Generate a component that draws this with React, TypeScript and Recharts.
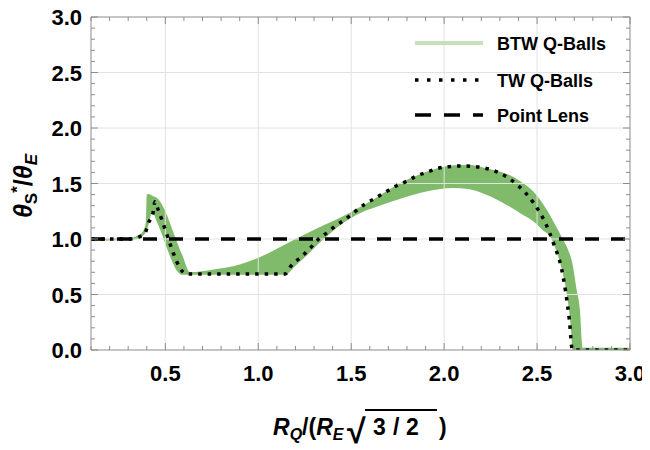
import React from 'react';
import { ComposedChart, Area, Line, XAxis, YAxis, ReferenceLine, Legend } from 'recharts';

// ---------- data ----------
const btwX = [0.10, 0.30, 0.35, 0.38, 0.395, 0.400, 0.410, 0.430, 0.455, 0.590, 0.633, 0.760, 0.900, 1.000, 1.080, 1.144, 1.200, 1.260, 1.320, 1.400, 1.490, 1.550, 1.637, 1.760, 1.880, 1.980, 2.050, 2.130, 2.210, 2.290, 2.354, 2.420, 2.479, 2.530, 2.578, 2.610, 2.641, 2.665, 2.684, 2.690, 2.713, 2.730, 2.745, 3.000];
const btwLow = [0.985, 0.99, 1.0, 1.03, 1.06, 1.08, 1.13, 1.24, 1.152, 0.678, 0.678, 0.678, 0.678, 0.678, 0.678, 0.678, 0.76, 0.85, 0.95, 1.07, 1.18, 1.235, 1.29, 1.36, 1.42, 1.45, 1.46, 1.45, 1.41, 1.35, 1.29, 1.22, 1.16, 1.08, 1.0, 0.86, 0.67, 0.45, 0.15, 0.0, 0.0, 0.0, 0.0, 0.0];
const btwHigh = [1.0, 1.008, 1.03, 1.07, 1.15, 1.40, 1.405, 1.39, 1.37, 0.86, 0.70, 0.725, 0.77, 0.83, 0.895, 0.95, 1.0, 1.05, 1.10, 1.16, 1.235, 1.29, 1.375, 1.50, 1.59, 1.645, 1.665, 1.67, 1.645, 1.61, 1.575, 1.51, 1.43, 1.32, 1.19, 1.09, 0.99, 0.91, 0.82, 0.78, 0.54, 0.37, 0.02, 0.02];

const twX = [0.10, 0.30, 0.33, 0.36, 0.39, 0.408, 0.435, 0.444, 0.462, 0.615, 1.144, 1.18, 1.233, 1.278, 1.323, 1.377, 1.422, 1.475, 1.52, 1.574, 1.628, 1.681, 1.744, 1.798, 1.852, 1.914, 1.968, 2.03, 2.103, 2.2, 2.291, 2.399, 2.479, 2.546, 2.591, 2.632, 2.654, 2.673, 2.69, 3.0];
const twY = [1.0, 1.0, 1.005, 1.02, 1.05, 1.14, 1.246, 1.336, 1.26, 0.685, 0.685, 0.766, 0.841, 0.916, 0.997, 1.066, 1.126, 1.186, 1.246, 1.315, 1.366, 1.42, 1.48, 1.52, 1.568, 1.606, 1.637, 1.652, 1.658, 1.645, 1.60, 1.48, 1.33, 1.14, 0.95, 0.73, 0.52, 0.28, 0.0, 0.0];

const lensX = [0.1, 3.0];
const lensY = [1.0, 1.0];

const xGridValues = [0.5, 1.0, 1.5, 2.0, 2.5];
const yGridValues = [0.5, 1.0, 1.5, 2.0, 2.5];
const xTicks = [0.1, 0.2, 0.3, 0.4, 0.5, 0.6, 0.7, 0.8, 0.9, 1.0, 1.1, 1.2, 1.3, 1.4, 1.5, 1.6, 1.7, 1.8, 1.9, 2.0, 2.1, 2.2, 2.3, 2.4, 2.5, 2.6, 2.7, 2.8, 2.9, 3.0];
const yTicks = [0, 0.1, 0.2, 0.3, 0.4, 0.5, 0.6, 0.7, 0.8, 0.9, 1.0, 1.1, 1.2, 1.3, 1.4, 1.5, 1.6, 1.7, 1.8, 1.9, 2.0, 2.1, 2.2, 2.3, 2.4, 2.5, 2.6, 2.7, 2.8, 2.9, 3.0];

const legendLabels = ['BTW Q-Balls', 'TW Q-Balls', 'Point Lens'];

const btwData = btwX.map((x, i) => ({ x, range: [btwLow[i], btwHigh[i]] }));
const twData = twX.map((x, i) => ({ x, y: twY[i] }));
const lensData = lensX.map((x, i) => ({ x, y: lensY[i] }));

// ---------- styling ----------
const FONT = '"Liberation Sans", Arial, sans-serif';
const FRAME = '#8c8c8c';
const GRID = '#e2e2e2';
const GREEN = '#80bb6c';
const GREEN_LIGHT = '#c6e1b9';

const isMajor = (v: number) => Math.abs(v * 2 - Math.round(v * 2)) < 1e-6;

const BottomTick = (props: any) => {
  const { x, y, payload } = props;
  const v = payload.value;
  const major = isMajor(v);
  return (
    <g>
      <line x1={x} x2={x} y1={y} y2={y - (major ? 7 : 4)} stroke={FRAME} strokeWidth={1} />
      {major && (
        <text x={x} y={y + 31} textAnchor="middle" fontFamily={FONT} fontWeight="bold" fontSize={22} fill="#000">
          {v.toFixed(1)}
        </text>
      )}
    </g>
  );
};

const TopTick = (props: any) => {
  const { x, y, payload } = props;
  const major = isMajor(payload.value);
  return <line x1={x} x2={x} y1={y} y2={y + (major ? 7 : 4)} stroke={FRAME} strokeWidth={1} />;
};

const LeftTick = (props: any) => {
  const { x, y, payload } = props;
  const v = payload.value;
  const major = isMajor(v);
  return (
    <g>
      <line x1={x} x2={x + (major ? 7 : 4)} y1={y} y2={y} stroke={FRAME} strokeWidth={1} />
      {major && (
        <text x={x - 9} y={y + 8} textAnchor="end" fontFamily={FONT} fontWeight="bold" fontSize={22} fill="#000">
          {v.toFixed(1)}
        </text>
      )}
    </g>
  );
};

const RightTick = (props: any) => {
  const { x, y, payload } = props;
  const major = isMajor(payload.value);
  return <line x1={x} x2={x - (major ? 7 : 4)} y1={y} y2={y} stroke={FRAME} strokeWidth={1} />;
};

const XTitle = () => {
  const by = 427;
  const common = { fontFamily: FONT, fontWeight: 'bold' as const, fill: '#000' };
  return (
    <g>
      <text x={265} y={by} fontSize={23} {...common}>
        <tspan fontStyle="italic">R</tspan>
        <tspan fontStyle="italic" fontSize={16} dy={5}>Q</tspan>
        <tspan dy={-5}>/(</tspan>
        <tspan fontStyle="italic">R</tspan>
        <tspan fontStyle="italic" fontSize={16} dy={5}>E</tspan>
      </text>
      <text x={339} y={by + 8} fontSize={34} {...common}>√</text>
      <line x1={357} x2={429} y1={402} y2={402} stroke="#000" strokeWidth={2.2} />
      <text y={by} fontSize={23} {...common}>
        <tspan x={365}>3</tspan>
        <tspan x={385}>/</tspan>
        <tspan x={398}>2</tspan>
      </text>
      <text x={431} y={by} fontSize={23} {...common}>)</text>
    </g>
  );
};

const YTitle = () => {
  const cx = 24;
  const cy = 178;
  return (
    <text
      transform={`translate(${cx},${cy}) rotate(-90)`}
      x={0}
      y={0}
      textAnchor="middle"
      fontFamily={FONT}
      fontWeight="bold"
      fontSize={25}
      fill="#000"
    >
      <tspan fontStyle="italic">θ</tspan>
      <tspan fontSize={17} dy={5}>S</tspan>
      <tspan fontSize={17} dy={-14}>*</tspan>
      <tspan dy={9}>/</tspan>
      <tspan fontStyle="italic">θ</tspan>
      <tspan fontSize={17} fontStyle="italic" dy={5}>E</tspan>
    </text>
  );
};

const LegendContent = () => {
  const rows = [18, 55, 90];
  const x1 = 12;
  const x2 = 80;
  const tx = 94;
  const tstyle = { fontFamily: FONT, fontWeight: 'bold' as const, fontSize: 18, fill: '#000' };
  return (
    <svg width={240} height={110} style={{ display: 'block', overflow: 'visible' }}>
      <line x1={x1} x2={x2} y1={rows[0]} y2={rows[0]} stroke={GREEN_LIGHT} strokeWidth={4} />
      <text x={tx} y={rows[0] + 6.5} {...tstyle}>{legendLabels[0]}</text>
      <line x1={x1} x2={x2} y1={rows[1]} y2={rows[1]} stroke="#000" strokeWidth={3.5} strokeDasharray="3.5 8.5" />
      <text x={tx} y={rows[1] + 6.5} {...tstyle}>{legendLabels[1]}</text>
      <line x1={x1} x2={x2} y1={rows[2]} y2={rows[2]} stroke="#000" strokeWidth={3.5} strokeDasharray="16 13" />
      <text x={tx} y={rows[2] + 6.5} {...tstyle}>{legendLabels[2]}</text>
    </svg>
  );
};

export default function App() {
  return (
    <ComposedChart width={650} height={450} margin={{ top: 0, right: 0, bottom: 0, left: 0 }}>
      <XAxis
        dataKey="x"
        type="number"
        domain={[0.1, 3.0]}
        ticks={xTicks}
        interval={0}
        allowDataOverflow
        height={108}
        tickSize={0}
        tickMargin={0}
        axisLine={{ stroke: FRAME }}
        tickLine={false}
        tick={<BottomTick />}
        label={{ content: () => <XTitle /> }}
      />
      <XAxis
        xAxisId="top"
        orientation="top"
        dataKey="x"
        type="number"
        domain={[0.1, 3.0]}
        ticks={xTicks}
        interval={0}
        allowDataOverflow
        height={9}
        tickSize={0}
        tickMargin={0}
        axisLine={{ stroke: FRAME }}
        tickLine={false}
        tick={<TopTick />}
      />
      <YAxis
        type="number"
        domain={[0, 3]}
        ticks={yTicks}
        interval={0}
        allowDataOverflow
        width={83}
        tickSize={0}
        tickMargin={0}
        axisLine={{ stroke: FRAME }}
        tickLine={false}
        tick={<LeftTick />}
        label={{ content: () => <YTitle /> }}
      />
      <YAxis
        yAxisId="right"
        orientation="right"
        type="number"
        domain={[0, 3]}
        ticks={yTicks}
        interval={0}
        allowDataOverflow
        width={28}
        tickSize={0}
        tickMargin={0}
        axisLine={{ stroke: FRAME }}
        tickLine={false}
        tick={<RightTick />}
      />
      {xGridValues.map((v) => (
        <ReferenceLine key={'gx' + v} x={v} stroke={GRID} strokeWidth={1} />
      ))}
      {yGridValues.map((v) => (
        <ReferenceLine key={'gy' + v} y={v} stroke={GRID} strokeWidth={1} />
      ))}
      <Area
        data={btwData}
        dataKey="range"
        type="monotone"
        stroke="none"
        fill={GREEN}
        fillOpacity={1}
        isAnimationActive={false}
        dot={false}
        activeDot={false}
        legendType="none"
      />
      <Line
        data={lensData}
        dataKey="y"
        type="linear"
        stroke="#000"
        strokeWidth={3.5}
        strokeDasharray="14 12"
        dot={false}
        activeDot={false}
        isAnimationActive={false}
      />
      <Line
        data={twData}
        dataKey="y"
        type="monotone"
        stroke="#000"
        strokeWidth={3.5}
        strokeDasharray="3.5 6"
        dot={false}
        activeDot={false}
        isAnimationActive={false}
      />
      <Legend
        layout="vertical"
        align="center"
        verticalAlign="middle"
        content={() => <LegendContent />}
        wrapperStyle={{ position: 'absolute', left: 395, top: 17, width: 240, height: 110 }}
      />
    </ComposedChart>
  );
}
